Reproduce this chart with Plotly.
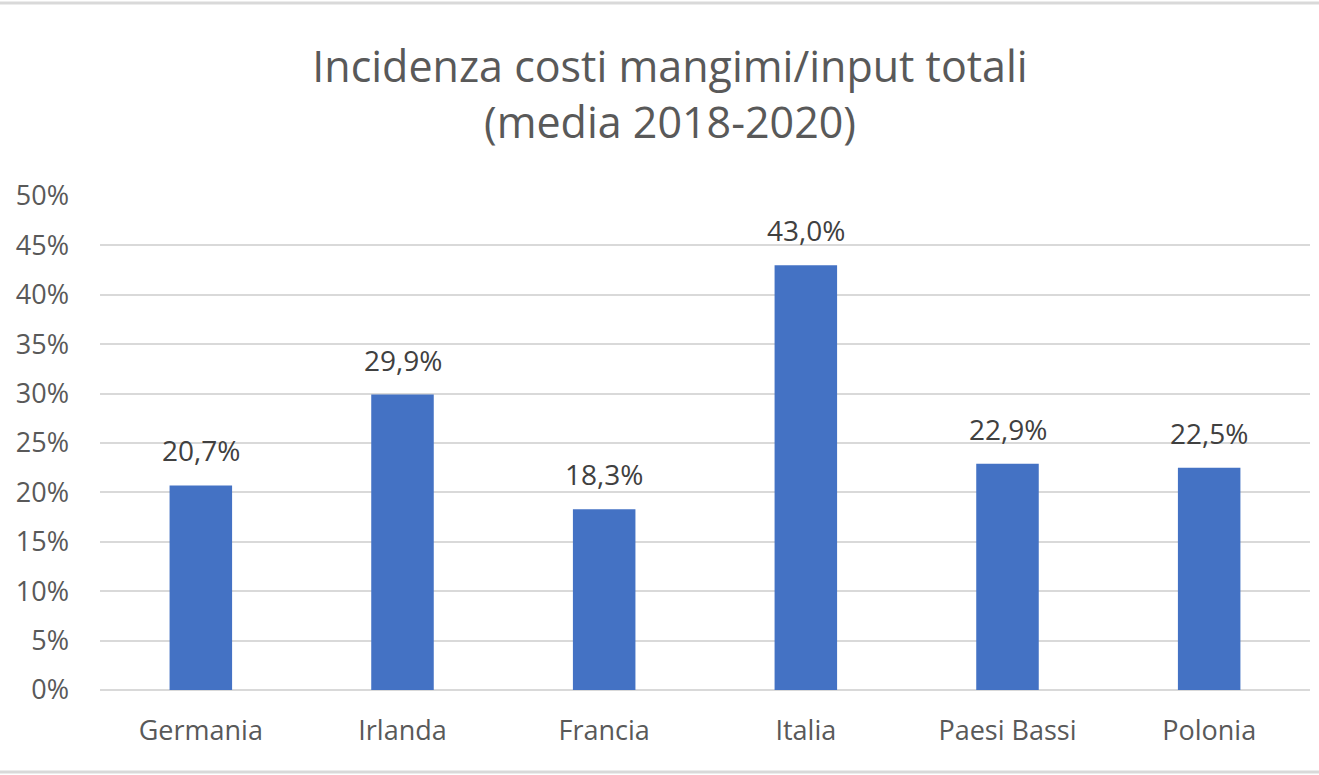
import plotly.graph_objects as go

# Feed cost share of total inputs, 3-year average
countries = ["Germania", "Irlanda", "Francia", "Italia", "Paesi Bassi", "Polonia"]
shares = [20.7, 29.9, 18.3, 43.0, 22.9, 22.5]
tick_values = [0, 5, 10, 15, 20, 25, 30, 35, 40, 45, 50]
tick_labels = [f"{v}%" for v in tick_values]

W, H = 1319, 775
ML, MR, MT, MB = 100, 9, 196, 85
TEXT = "#595959"
FONT = "Open Sans"

fig = go.Figure()
fig.add_trace(go.Bar(
    x=countries,
    y=shares,
    marker=dict(color="#4472C4", line=dict(width=0)),
    hoverinfo="x+y",
))

for c, v in zip(countries, shares):
    fig.add_annotation(
        x=c, y=v, xref="x", yref="y",
        text=f"{v:.1f}".replace(".", ",") + "%",
        showarrow=False, yanchor="bottom", yshift=14,
        font=dict(family=FONT, size=28, color="#404040"),
    )

plot_h = H - MT - MB
plot_w = W - ML - MR
# thin frame lines at the top and bottom edges of the chart
for ypix in (3, 772):
    yp = (H - MB - ypix) / plot_h
    fig.add_shape(type="line", xref="paper", yref="paper",
                  x0=-ML / plot_w, x1=(W - ML) / plot_w, y0=yp, y1=yp,
                  line=dict(color="#d9d9d9", width=3))

fig.update_layout(
    width=W, height=H,
    margin=dict(l=ML, r=MR, t=MT, b=MB),
    paper_bgcolor="white", plot_bgcolor="white",
    bargap=0.69,
    showlegend=False,
    title=dict(
        text="Incidenza costi mangimi/input totali<br>(media 2018-2020)",
        x=670 / W, xanchor="center", xref="container",
        y=1 - 82 / H, yanchor="middle",
        font=dict(family=FONT, size=43, color=TEXT),
    ),
    xaxis=dict(
        tickfont=dict(family=FONT, size=27, color=TEXT),
        showgrid=False, showline=False, zeroline=False,
        ticks="", ticklabelstandoff=22,
    ),
    yaxis=dict(
        range=[0, 50],
        tickvals=tick_values, ticktext=tick_labels,
        tickfont=dict(family=FONT, size=27, color=TEXT),
        showgrid=True, gridcolor="#d9d9d9", gridwidth=2,
        zeroline=True, zerolinecolor="#d9d9d9", zerolinewidth=2,
        showline=False, ticks="", ticklabelstandoff=30,
    ),
)

fig.write_html("out.html")
